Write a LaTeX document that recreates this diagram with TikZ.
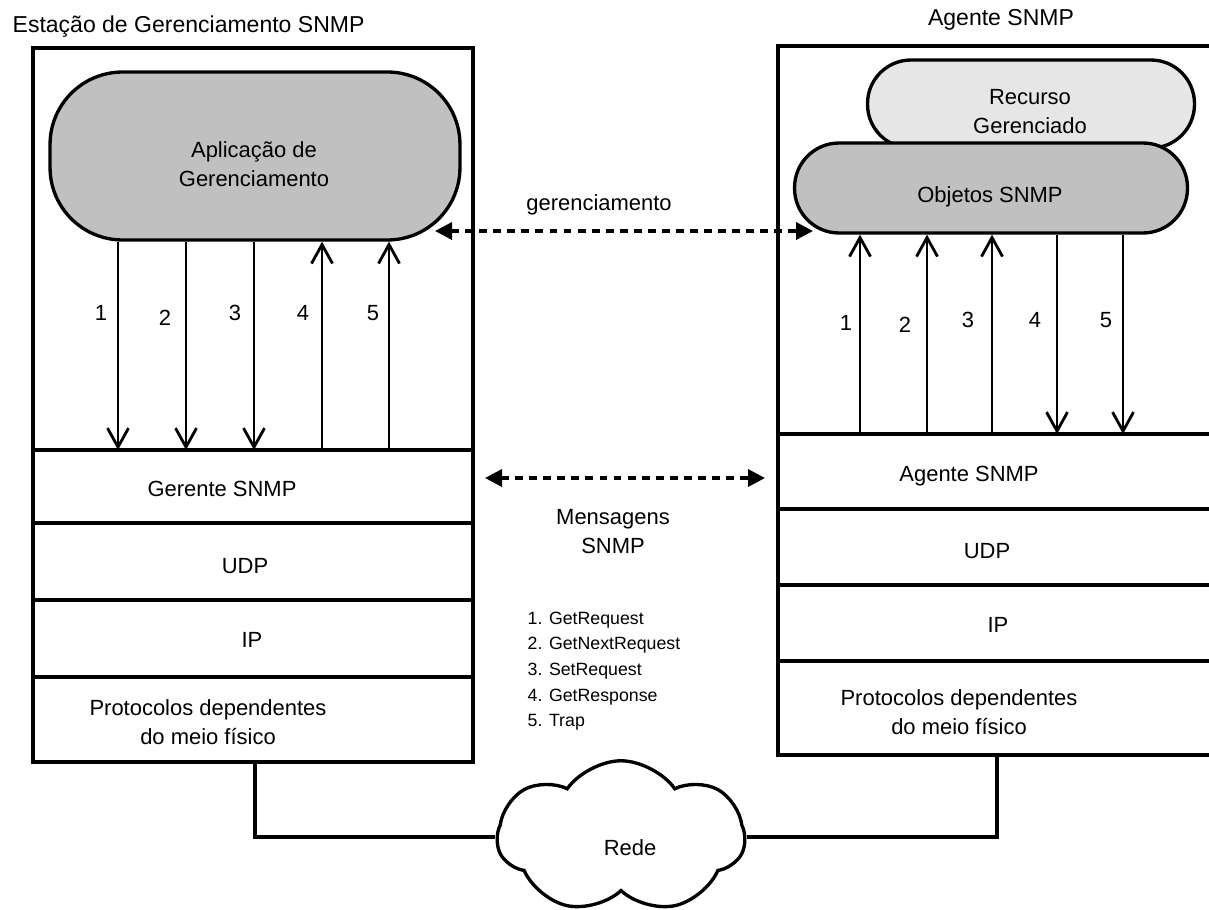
\documentclass[tikz,border=0pt]{standalone}
\usepackage{fontspec}
\setmainfont{Liberation Sans}
\usetikzlibrary{shapes,arrows.meta}

\definecolor{cinza}{HTML}{C0C0C0}
\definecolor{cinzaclaro}{HTML}{E6E6E6}

\begin{document}
\begin{tikzpicture}[x=0.02cm,y=-0.02cm,line width=1.9pt,
	txt/.style={inner sep=0pt,align=center,font=\fontsize{12.5}{16.5}\selectfont},
	lista/.style={inner sep=0pt,align=left,anchor=west,font=\fontsize{10.1}{14.6}\selectfont},
	oval/.style={draw,fill=cinza,inner sep=0pt},
	seta/.style={-{Straight Barb[length=0.38cm,width=0.42cm]},line width=1.6pt},
	msg/.style={{Triangle[length=0.34cm,width=0.34cm]}-{Triangle[length=0.34cm,width=0.34cm]},line width=2pt,dash pattern=on 4.5pt off 3.5pt}]
			\useasboundingbox (0,0) rectangle (1209,909);

			% estacao de gerenciamento
			\node[txt,anchor=west,font=\fontsize{13.1}{16.5}\selectfont] (estacao) at (11,27) {Estação de Gerenciamento SNMP};
			\draw (33,48) rectangle (473,762);
			\draw (33,450) -- (473,450);
			\draw (33,523) -- (473,523);
			\draw (33,600) -- (473,600);
			\draw (33,677) -- (473,677);
			\node[oval,rounded corners=1.45cm,minimum width=8.2cm,minimum height=3.36cm] (app) at (255,156) {};
			\node[txt] (apptxt) at (254,164) {Aplicação de\\Gerenciamento};
			\node[txt] (gerente) at (222,489) {Gerente SNMP};
			\node[txt] (udpg) at (245,566) {UDP};
			\node[txt] (ipg) at (252,640) {IP};
			\node[txt] (fisg) at (208,722) {Protocolos dependentes\\do meio físico};

			\coordinate (g1) at (118,450);
			\coordinate (g2) at (186,450);
			\coordinate (g3) at (254,450);
			\coordinate (g4) at (322,450);
			\coordinate (g5) at (389,450);
			\draw[seta] (app.south -| g1) -- (g1);
			\draw[seta] (app.south -| g2) -- (g2);
			\draw[seta] (app.south -| g3) -- (g3);
			\draw[seta] (g4) -- (app.south -| g4);
			\draw[seta] (g5) -- (app.south -| g5);
			\node[txt] (ng1) at (101,313) {1};
			\node[txt] (ng2) at (165,318) {2};
			\node[txt] (ng3) at (235,313) {3};
			\node[txt] (ng4) at (303,313) {4};
			\node[txt] (ng5) at (373,313) {5};

			% agente
			\node[txt,font=\fontsize{13.1}{16.5}\selectfont] (agente) at (1001,20) {Agente SNMP};
			\draw (1215,46) -- (778,46) -- (778,755) -- (1215,755);
			\draw (778,434) -- (1215,434);
			\draw (778,509) -- (1215,509);
			\draw (778,585) -- (1215,585);
			\draw (778,661) -- (1215,661);
			\node[oval,fill=cinzaclaro,rounded corners=0.87cm,minimum width=6.54cm,minimum height=1.76cm] (recurso) at (1031,104) {};
			\node[txt] (recursotxt) at (1030,112) {Recurso\\Gerenciado};
			\node[oval,rounded corners=0.89cm,minimum width=7.86cm,minimum height=1.8cm] (objetos) at (991,188) {};
			\node[txt] (objetostxt) at (990,197) {Objetos SNMP};
			\node[txt] (agentesnmp) at (969,476) {Agente SNMP};
			\node[txt] (udpa) at (987,551) {UDP};
			\node[txt] (ipa) at (998,625) {IP};
			\node[txt] (fisa) at (959,712) {Protocolos dependentes\\do meio físico};

			\coordinate (a1) at (860,434);
			\coordinate (a2) at (927,434);
			\coordinate (a3) at (992,434);
			\coordinate (a4) at (1057,434);
			\coordinate (a5) at (1123,434);
			\draw[seta] (a1) -- (objetos.south -| a1);
			\draw[seta] (a2) -- (objetos.south -| a2);
			\draw[seta] (a3) -- (objetos.south -| a3);
			\draw[seta] (objetos.south -| a4) -- (a4);
			\draw[seta] (objetos.south -| a5) -- (a5);
			\node[txt] (na1) at (846,323) {1};
			\node[txt] (na2) at (905,325) {2};
			\node[txt] (na3) at (968,320) {3};
			\node[txt] (na4) at (1035,320) {4};
			\node[txt] (na5) at (1106,320) {5};

			% mensagens
			\coordinate (ge1) at (435,231);
			\coordinate (ge2) at (813,231);
			\draw[msg] (ge1) -- (ge2);
			\node[txt] (gerenc) at (599,205) {gerenciamento};
			\coordinate (me1) at (485,478);
			\coordinate (me2) at (765,478);
			\draw[msg] (me1) -- (me2);
			\node[txt] (mensagens) at (613,532) {Mensagens\\SNMP};
			\node[lista] (tipos) at (526,671) {1. GetRequest\\2. GetNextRequest\\3. SetRequest\\4. GetResponse\\5. Trap};

			% rede
			\node[cloud,draw,fill=white,cloud puffs=7,cloud puff arc=110,minimum width=4.95cm,minimum height=3.05cm,inner sep=0pt] (rede) at (621,837) {};
			\node[txt] (redetxt) at (630,848) {Rede};
			\coordinate (lb) at (255,762);
			\coordinate (rb) at (997,755);
			\draw (lb) |- (rede.west);
			\draw (rb) |- (rede.east);
		\end{tikzpicture}
\end{document}
